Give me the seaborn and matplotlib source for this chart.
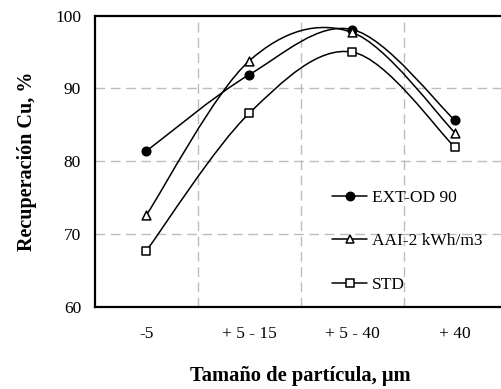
import numpy as np
import matplotlib
matplotlib.use("Agg")
import matplotlib.pyplot as plt
import seaborn as sns
import pandas as pd
from matplotlib.path import Path
from matplotlib.patches import PathPatch
from matplotlib.lines import Line2D

categories = ["-5", "+ 5 - 15", "+ 5 - 40", "+ 40"]
ext_od = [81.4, 91.9, 98.1, 85.6]
aai = [72.6, 93.8, 97.7, 83.9]
std = [67.7, 86.6, 95.0, 81.9]
series_names = ["EXT-OD 90", "AAI-2 kWh/m3", "STD"]
y_ticks = [60, 70, 80, 90, 100]

sns.set_theme(style="white")
plt.rcParams['font.family'] = ['Liberation Serif', 'DejaVu Serif']
plt.rcParams['text.color'] = 'black'
plt.rcParams['axes.labelcolor'] = 'black'
plt.rcParams['xtick.color'] = 'black'
plt.rcParams['ytick.color'] = 'black'

fig = plt.figure(figsize=(5.02, 3.89), dpi=100)
W, H = 502, 389
ax = fig.add_axes([95 / W, 1 - 306.7 / H, (506.5 - 95) / W, (306.7 - 15.7) / H])

xs = np.arange(len(categories))
rows = []
for name, vals in zip(series_names, [ext_od, aai, std]):
    for c, x, v in zip(categories, xs, vals):
        rows.append({"series": name, "x": x, "cat": c, "y": v})
df = pd.DataFrame(rows)

def smooth_path(xv, yv):
    P = np.column_stack([xv, yv]).astype(float)
    n = len(P)
    verts = [P[0]]
    codes = [Path.MOVETO]
    for i in range(n - 1):
        p0 = P[i - 1] if i > 0 else P[i]
        p1 = P[i]
        p2 = P[i + 1]
        p3 = P[i + 2] if i + 2 < n else P[i + 1]
        c1 = p1 + (p2 - p0) / 6.0
        c2 = p2 - (p3 - p1) / 6.0
        verts += [c1, c2, p2]
        codes += [Path.CURVE4] * 3
    return Path(verts, codes)

markers = {"EXT-OD 90": "o", "AAI-2 kWh/m3": "^", "STD": "s"}
faces = {"EXT-OD 90": "black", "AAI-2 kWh/m3": "white", "STD": "white"}
sizes = {"EXT-OD 90": 38, "AAI-2 kWh/m3": 40, "STD": 34}

for name in series_names:
    sub = df[df.series == name]
    patch = PathPatch(smooth_path(sub.x.values, sub.y.values), facecolor="none",
                      edgecolor="black", lw=1.1, zorder=3)
    ax.add_patch(patch)
for name in series_names:
    sub = df[df.series == name]
    sns.scatterplot(data=sub, x="x", y="y", marker=markers[name], s=sizes[name],
                    color=faces[name], edgecolor="black", linewidth=1.1, ax=ax,
                    zorder=4, legend=False)

ax.set_xlim(-0.5, 3.5)
ax.set_ylim(60, 100)
ax.set_yticks(y_ticks)
ax.set_yticklabels([str(t) for t in y_ticks])
ax.set_xticks(xs)
ax.set_xticklabels(categories)
ax.set_xticks(np.arange(0.5, 3.5, 1), minor=True)
ax.tick_params(axis="x", which="major", length=0, pad=14, labelsize=12.5, colors="black")
ax.tick_params(axis="x", which="minor", length=4, direction="in", width=1, color="black")
ax.tick_params(axis="y", which="major", length=0, pad=10, labelsize=12.5, colors="black")

for t in [70, 80, 90]:
    ax.axhline(t, color="#bdbdbd", lw=1, ls=(0, (7, 4)), zorder=1)
for xv in [0.5, 1.5, 2.5]:
    ax.axvline(xv, color="#bdbdbd", lw=1, ls=(0, (7, 4)), zorder=1)

for side in ["left", "bottom", "top"]:
    ax.spines[side].set_linewidth(1.6)
    ax.spines[side].set_color("black")
ax.spines["right"].set_visible(False)

ax.set_xlabel("Tamaño de partícula, μm", fontsize=14.8, fontweight="bold", labelpad=17)
ax.set_ylabel("Recuperación Cu, %", fontsize=14.5, fontweight="bold", labelpad=13)

handles = [Line2D([0], [0], color="black", lw=1.1, marker=markers[n], markersize=6,
                  markerfacecolor=faces[n], markeredgecolor="black", markeredgewidth=1.1)
           for n in series_names]
ax.legend(handles, series_names, loc="upper left", bbox_to_anchor=(0.56, 0.426),
          frameon=False, fontsize=12.5, labelspacing=1.58, handlelength=2.0,
          handletextpad=0.3, borderaxespad=0)

fig.savefig("out.png", dpi=100)
